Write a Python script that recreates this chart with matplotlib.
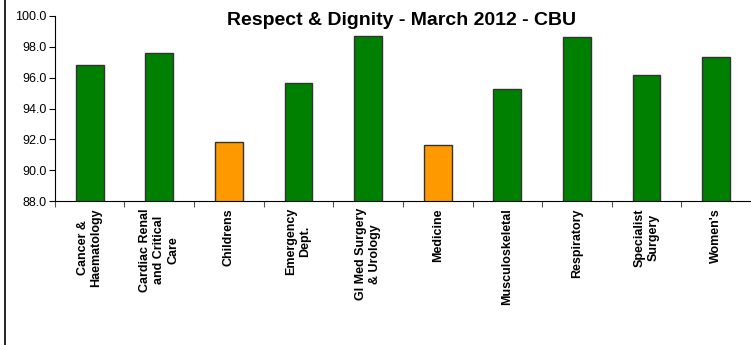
import matplotlib
matplotlib.use('Agg')
import matplotlib.pyplot as plt
from matplotlib.lines import Line2D

plt.rcParams['font.family'] = ['Liberation Sans', 'DejaVu Sans']

categories = ['Cancer &\nHaematology', 'Cardiac Renal\nand Critical\nCare', 'Childrens',
              'Emergency\nDept.', 'GI Med Surgery\n& Urology', 'Medicine',
              'Musculoskeletal', 'Respiratory', 'Specialist\nSurgery', "Women's"]
scores = [96.8, 97.6, 91.85, 95.65, 98.7, 91.65, 95.25, 98.6, 96.2, 97.35]
bar_colors = ['#008000', '#008000', '#FF9900', '#008000', '#008000',
              '#FF9900', '#008000', '#008000', '#008000', '#008000']
yticks = [88.0, 90.0, 92.0, 94.0, 96.0, 98.0, 100.0]

fig = plt.figure(figsize=(7.51, 3.45), dpi=100)
ax = fig.add_axes([0.073, 0.417, 0.927, 0.537])

x = range(len(categories))
ax.bar(x, scores, width=0.4, color=bar_colors, edgecolor='#333333', linewidth=1.0, zorder=2)

ax.set_ylim(88, 100)
ax.set_xlim(-0.5, len(categories) - 0.5)
ax.set_yticks(yticks)
ax.set_yticklabels(['%.1f' % v for v in yticks], fontsize=9)
ax.tick_params(axis='y', direction='out', length=4, width=0.8, pad=2)

# category labels sit between the boundary ticks
ax.set_xticks([i - 0.5 for i in range(len(categories) + 1)])
ax.set_xticklabels([])
ax.tick_params(axis='x', direction='out', length=4, width=0.8, color='#555555')
ax.set_xticks(list(x), minor=True)
ax.set_xticklabels(categories, minor=True, rotation=90, fontsize=9, fontweight='bold',
                   ha='center', va='top', multialignment='center')
ax.tick_params(axis='x', which='minor', length=0, pad=5)

for s in ['top', 'right']:
    ax.spines[s].set_visible(False)
ax.spines['left'].set_linewidth(0.8)
ax.spines['bottom'].set_linewidth(0.8)

fig.text(0.535, 0.942, 'Respect & Dignity - March 2012 - CBU', fontsize=14,
         fontweight='bold', ha='center', va='center')

fig.add_artist(Line2D([0.007, 0.007], [0.0, 1.0], color='black', linewidth=1.2,
                      transform=fig.transFigure))

plt.savefig('out.png', dpi=100)
